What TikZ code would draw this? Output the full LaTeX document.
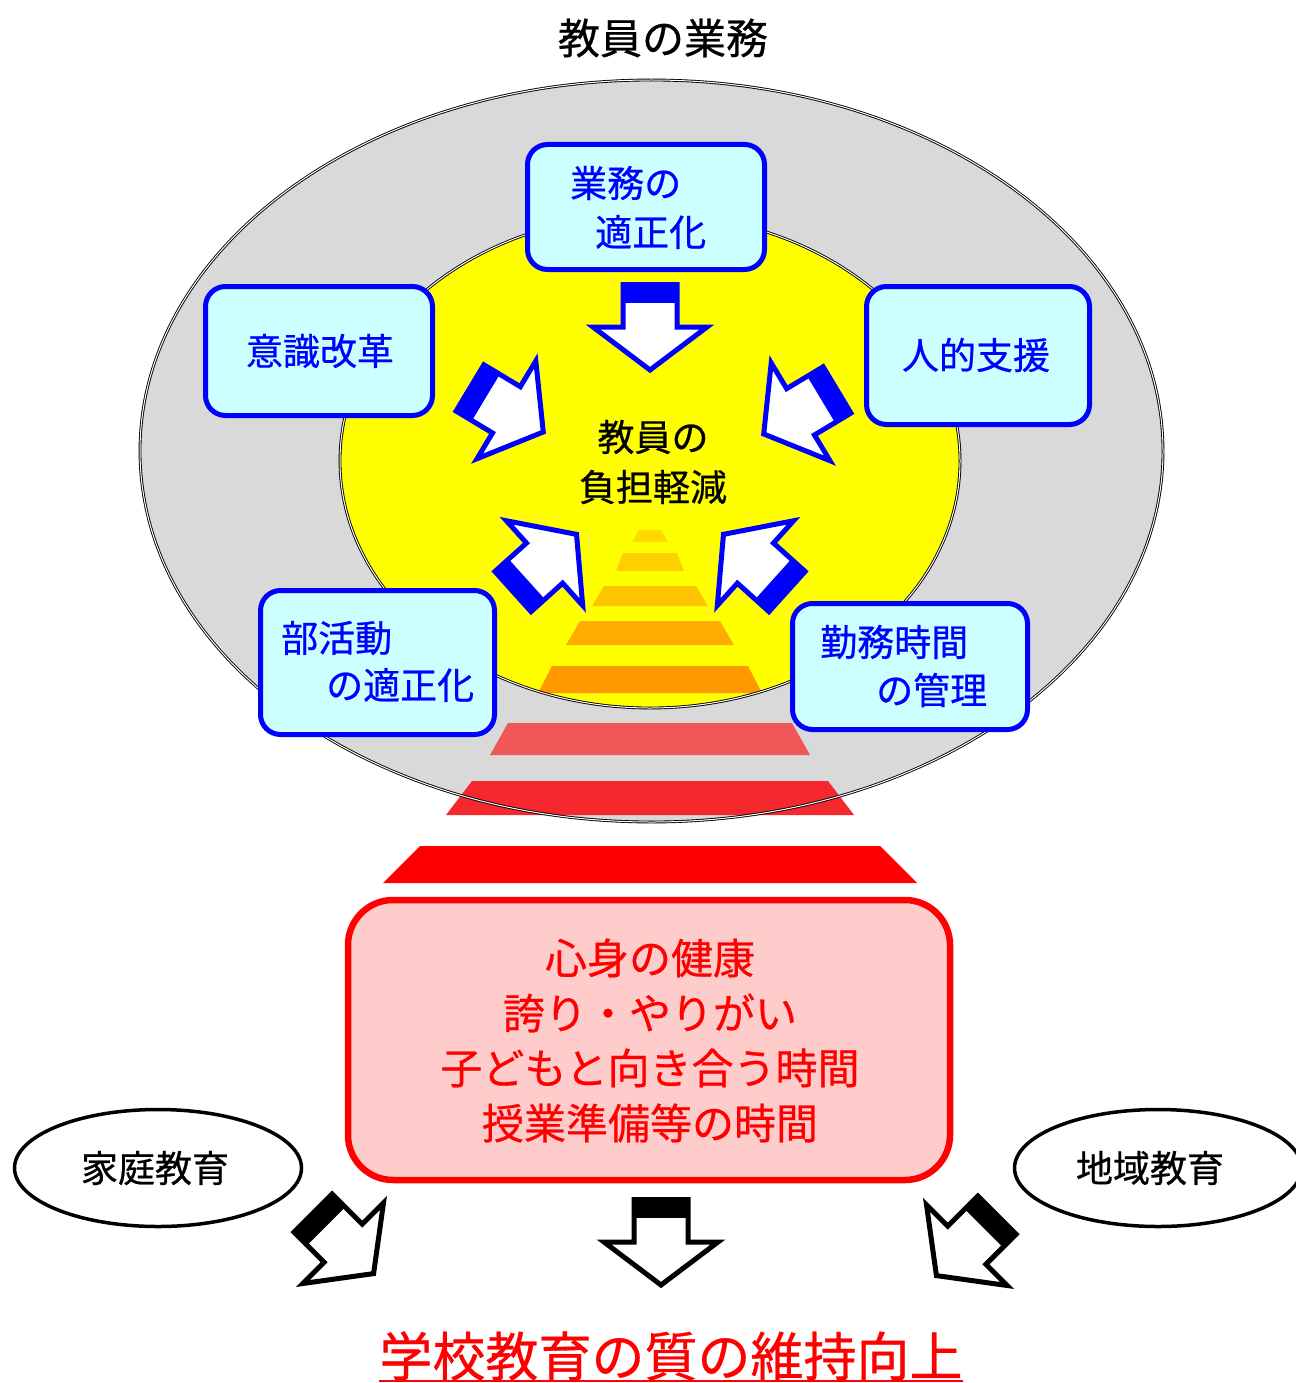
\documentclass[tikz,border=0pt]{standalone}
\usepackage{fontspec}
\newfontfamily\jp[FakeBold=0.6]{Noto Sans CJK JP}
\usetikzlibrary{shapes.geometric}
\definecolor{grayfill}{RGB}{217,217,217}
\definecolor{cyanfill}{RGB}{204,255,255}
\definecolor{pinkfill}{RGB}{255,204,204}
\definecolor{yel}{RGB}{255,255,0}
\definecolor{sA}{RGB}{255,217,0}
\definecolor{sB}{RGB}{255,208,0}
\definecolor{sC}{RGB}{255,196,0}
\definecolor{sD}{RGB}{255,172,0}
\definecolor{sE}{RGB}{255,153,0}
\definecolor{sF}{RGB}{240,88,88}
\definecolor{sG}{RGB}{245,40,45}
\definecolor{sH}{RGB}{255,0,0}
\newcommand\fatarr[4]{%
  \begin{scope}[shift={(#1,#2)},rotate=#3]
    \fill[white] (-2,0) -- (-45,-57) -- (-45,-27) -- (-87.5,-27) -- (-87.5,27) -- (-45,27) -- (-45,57) -- cycle;
    \fill[#4] (-87.5,-27) rectangle (-69,27);
    \draw[#4,line width=5pt,line join=miter,miter limit=10] (-2,0) -- (-45,-57) -- (-45,-27) -- (-87.5,-27) -- (-87.5,27) -- (-45,27) -- (-45,57) -- cycle;
  \end{scope}}
\newcommand\stepbar[5]{% y1 y2 halftop halfbottom colour
  \fill[#5] (650-#3,#1) -- (650+#3,#1) -- (650+#4,#2) -- (650-#4,#2) -- cycle;}
\tikzset{
  bluebox/.style={draw=blue,fill=cyanfill,line width=5pt,rounded corners=20pt,inner sep=0pt},
  btxt/.style={text=blue,font=\jp\fontsize{37}{44}\selectfont,inner sep=0pt},
  ktxt/.style={text=black,font=\jp\fontsize{37}{44}\selectfont,inner sep=0pt},
  rtxt/.style={text=red,font=\jp\fontsize{42}{50}\selectfont,inner sep=0pt},
  dline/.style={draw=black,double=white,double distance=1pt,line width=0.9pt},
  oval/.style={ellipse,draw=black,line width=3.5pt,fill=white,inner sep=0pt}
}
\begin{document}
\begin{tikzpicture}[x=1pt,y=-1pt]
\useasboundingbox[fill=white] (0,0) rectangle (1295,1383);
% title
\node[ktxt,font=\jp\fontsize{42}{50}\selectfont] (title) at (663,38) {教員の業務};
% ellipses
\fill[grayfill] (651.5,451) ellipse [x radius=511.5,y radius=371];
\fill[yel] (650,461) ellipse [x radius=310,y radius=247];
% steps
\stepbar{530}{542}{11}{18}{sA}
\stepbar{553}{571}{27}{34}{sB}
\stepbar{586}{606}{46}{58}{sC}
\stepbar{621}{645}{70}{84}{sD}
\stepbar{666}{693}{98}{112}{sE}
\stepbar{723}{755}{142}{160}{sF}
\stepbar{781}{815}{178}{204}{sG}
\stepbar{846}{883}{230}{267}{sH}
\draw[dline] (650,461) ellipse [x radius=310,y radius=247];
\draw[dline] (651.5,451) ellipse [x radius=511.5,y radius=371];
% blue boxes
\node[bluebox,minimum width=237pt,minimum height=125pt] (gyomu) at (646,207) {};
\node[bluebox,minimum width=227pt,minimum height=129pt] (ishiki) at (319,351) {};
\node[bluebox,minimum width=223pt,minimum height=138pt] (jinteki) at (978,355.5) {};
\node[bluebox,minimum width=234pt,minimum height=144pt] (bukatsu) at (377.5,662.5) {};
\node[bluebox,minimum width=235pt,minimum height=126pt] (kinmu) at (910,666.5) {};
\node[btxt,anchor=west] (g1) at (570,183) {業務の};
\node[btxt,anchor=west] (g2) at (595,232) {適正化};
\node[btxt] (i1) at (320,351) {意識改革};
\node[btxt] (j1) at (976,355) {人的支援};
\node[btxt,anchor=west] (b1) at (281,638) {部活動};
\node[btxt,anchor=west] (b2) at (326,685) {の適正化};
\node[btxt,anchor=west] (k1) at (820,642) {勤務時間};
\node[btxt,anchor=west] (k2) at (876,690) {の管理};
% centre text
\node[ktxt] (c1) at (653,437) {教員の};
\node[ktxt] (c2) at (653,487) {負担軽減};
% blue arrows
\fatarr{650}{372}{-90}{blue}
\fatarr{545}{433}{-31}{blue}
\fatarr{762}{435}{-149}{blue}
\fatarr{578}{533}{42}{blue}
\fatarr{722}{533}{138}{blue}
% red box
\node[draw=red,fill=pinkfill,line width=6.5pt,rounded corners=45pt,minimum width=602pt,minimum height=280pt,inner sep=0pt] (redbox) at (649,1040) {};
\node[rtxt] (r1) at (650,958) {心身の健康};
\node[rtxt] (r2) at (650,1013) {誇り・やりがい};
\node[rtxt] (r3) at (650,1068) {子どもと向き合う時間};
\node[rtxt] (r4) at (650,1123) {授業準備等の時間};
% side ovals
\node[oval,minimum width=287pt,minimum height=117pt] (katei) at (158,1168) {};
\node[ktxt] (katei t) at (155,1168) {家庭教育};
\node[oval,minimum width=287pt,minimum height=117pt] (chiiki) at (1158,1168) {};
\node[ktxt] (chiiki t) at (1150,1168) {地域教育};
% black arrows
\fatarr{375}{1275}{-45}{black}
\fatarr{661}{1287}{-90}{black}
\fatarr{935}{1277}{-135}{black}
% bottom title
\node[text=red,font=\jp\fontsize{53}{60}\selectfont,inner sep=0pt] (goal) at (671,1356) {学校教育の質の維持向上};
\draw[red,line width=2pt] (goal.west |- 0,1381) -- (goal.east |- 0,1381);
\end{tikzpicture}
\end{document}
